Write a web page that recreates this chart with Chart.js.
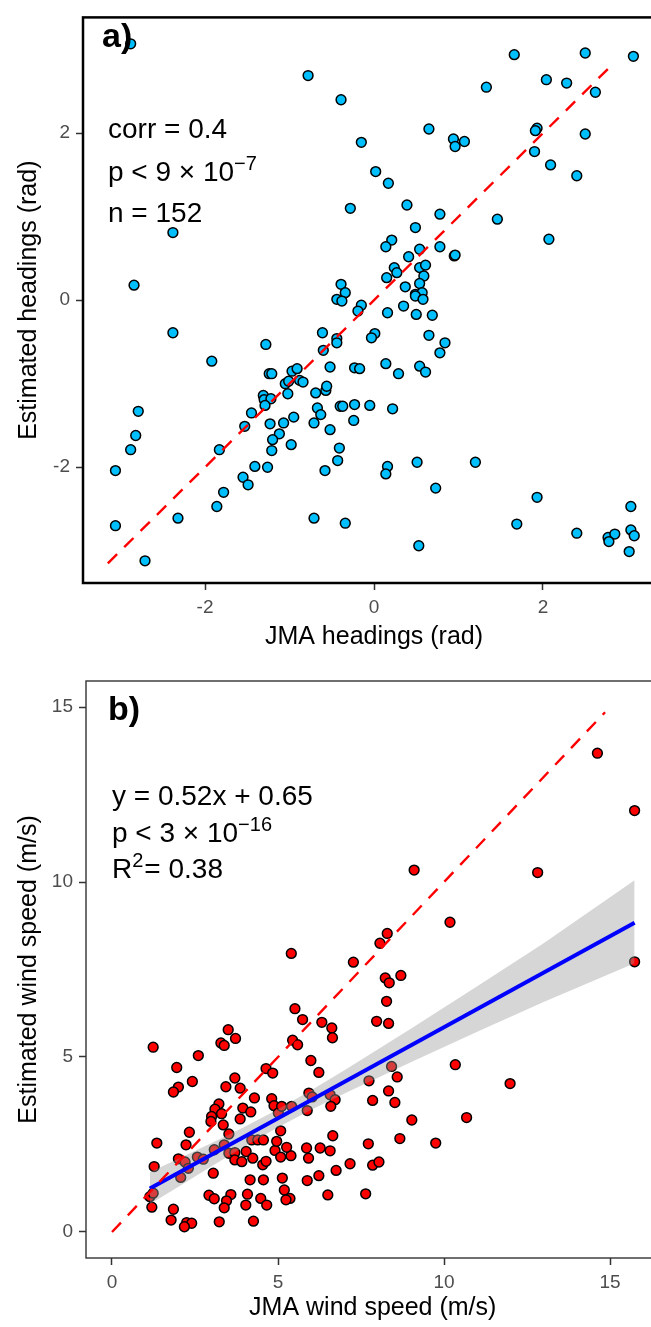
<!DOCTYPE html>
<html>
<head>
<meta charset="utf-8">
<script src="https://cdn.jsdelivr.net/npm/chart.js@4.4.1/dist/chart.umd.min.js"></script>
<style>
  html, body { margin: 0; padding: 0; background: #fff; overflow: hidden; width: 651px; height: 1327px; }
  canvas { position: absolute; left: 0; }
  #headChart { top: 0; }
  #speedChart { top: 650px; }
</style>
</head>
<body>
<canvas id="headChart" width="680" height="650"></canvas>
<canvas id="speedChart" width="680" height="677"></canvas>
<script>
// a) headings (rad): JMA vs estimated
const headJma = [
  -2.88, -0.78, -0.39, -0.15, -0.28, -2.38, -2.84, -0.39, -0.34, 1.66,
  2.50, 3.07, 2.04, 2.28, 2.62, 1.33, 0.65, 0.94, 1.07, 0.96,
  1.93, 1.91, 2.50, 1.90, 2.09, 2.40, 0.02, 0.17, 0.39, 0.78,
  1.46, 2.07, 0.49, 0.21, 0.14, 0.54, 0.41, 0.78, 0.95, 0.96,
  0.24, 0.27, 0.15, 0.54, 0.61, 0.59, 0.54, 0.37, 0.49, 0.57,
  0.35, 0.49, 0.58, 0.16, 0.50, 0.69, 0.01, -0.03, 0.65, 0.84,
  0.78, 0.14, 0.29, 0.54, 0.61, -0.05, 0.22, 0.16, 0.14, 0.51,
  1.20, 0.73, 1.93, 1.69, 3.04, 2.40, 2.77, 2.85, 2.78, 3.04,
  3.08, 3.02, 0.53, -0.44, -0.38, -0.15, -0.19, -2.38, -1.28, -0.61,
  -0.44, -0.44, -0.60, -1.92, -0.52, -0.23, -0.17, -1.24, -1.21, -0.97,
  -0.91, -1.05, -1.01, -0.88, -0.84, -1.02, -0.69, -0.57, -0.56, -1.31,
  -1.30, -1.22, -1.29, -1.45, -0.67, -0.63, -0.40, -0.37, -0.23, -1.53,
  -1.23, -1.07, -0.95, -0.71, -0.52, -0.24, -1.12, -1.20, -1.21, -0.98,
  -2.79, -2.82, -2.88, -1.83, -3.06, -1.41, -1.26, -1.55, -1.49, -1.78,
  -1.86, -0.41, -0.43, -0.58, -0.71, -0.34, -2.32, -3.06, -2.71
];
const headEst = [
  3.07, 2.69, 2.40, 1.89, 1.10, 0.81, 0.18, 0.19, 0.09, 2.94,
  2.96, 2.92, 2.64, 2.60, 2.49, 2.55, 2.05, 1.93, 1.90, 1.84,
  2.06, 2.03, 1.99, 1.78, 1.62, 1.49, 1.54, 1.40, 1.14, 1.03,
  0.97, 0.73, 0.87, 0.72, 0.64, 0.61, 0.52, 0.64, 0.53, 0.54,
  0.39, 0.33, 0.27, 0.39, 0.42, 0.29, 0.20, 0.16, 0.07, 0.09,
  -0.07, 0.05, 0.01, -0.15, -0.17, -0.18, -0.40, -0.45, -0.42, -0.51,
  -0.63, -0.76, -0.88, -0.79, -0.86, -1.26, -1.30, -1.99, -2.08, -1.94,
  -1.94, -2.25, -2.36, -2.68, -2.47, -2.79, -2.84, -2.80, -2.89, -2.75,
  -2.82, -3.01, -2.94, 0.01, -0.01, -0.06, -0.13, -0.39, -0.53, -0.39,
  -0.46, -0.51, -0.60, -0.73, -0.80, -0.81, -0.82, -0.88, -0.88, -0.85,
  -0.82, -1.00, -0.97, -0.96, -0.98, -1.12, -1.11, -1.08, -1.03, -1.14,
  -1.19, -1.18, -1.26, -1.35, -1.29, -1.37, -1.27, -1.27, -1.25, -1.51,
  -1.48, -1.47, -1.40, -1.47, -1.55, -1.44, -1.60, -1.67, -1.80, -1.73,
  -1.33, -1.62, -1.79, -1.79, -2.04, -1.99, -2.00, -2.12, -2.21, -2.30,
  -2.47, -1.77, -1.92, -2.04, -2.61, -2.67, -2.61, -2.70, -3.12
];
const headTicks = [-2, 0, 2];
const headOneToOne = [-3.15, 2.85];
const headStats = ['corr = 0.4', 'p < 9 \u00d7 10', '\u22127', 'n = 152'];

// b) wind speed (m/s): JMA vs estimated
const speedJma = [
  1.24, 3.50, 3.72, 3.28, 3.38, 2.60, 1.95, 2.42, 2.00, 1.85,
  3.70, 3.43, 3.86, 4.64, 4.84, 4.29, 4.81, 3.22, 3.10, 3.30,
  3.00, 2.98, 3.35, 3.94, 4.18, 3.86, 4.88, 5.01, 5.11, 5.08,
  3.52, 2.33, 1.35, 2.23, 2.00, 2.20, 2.07, 2.30, 2.57, 2.75,
  3.08, 3.38, 3.52, 3.70, 4.04, 4.21, 4.39, 4.56, 3.70, 3.91,
  4.24, 4.54, 4.64, 4.91, 4.96, 5.08, 5.13, 3.05, 1.27, 4.16,
  4.56, 1.14, 1.20, 1.24, 2.92, 3.08, 3.58, 3.45, 3.38, 4.08,
  4.03, 4.48, 4.66, 5.19, 1.85, 1.78, 2.25, 2.40, 2.18, 3.23,
  4.26, 7.27, 8.23, 8.35, 8.70, 8.27, 7.97, 8.33, 5.51, 5.74,
  6.32, 6.62, 6.64, 5.44, 5.59, 5.99, 6.23, 10.34, 8.42, 8.59,
  7.74, 8.33, 8.52, 7.85, 10.68, 9.03, 5.93, 6.03, 6.57, 6.72,
  6.59, 5.88, 5.41, 6.65, 5.86, 6.27, 6.57, 5.92, 5.39, 5.26,
  7.72, 8.67, 9.75, 7.17, 7.85, 8.04, 6.75, 6.23, 5.88, 5.36,
  5.24, 6.50, 7.64, 5.40, 14.62, 15.74, 9.10, 12.82, 10.18, 8.29,
  8.07, 15.74, 11.99
];
const speedEst = [
  5.28, 5.78, 5.53, 5.40, 5.33, 5.04, 4.70, 4.30, 4.14, 4.00,
  4.40, 4.15, 4.11, 4.67, 4.54, 3.83, 3.81, 3.66, 3.51, 3.38,
  3.30, 3.16, 3.06, 3.54, 3.43, 3.23, 3.61, 3.40, 3.59, 2.89,
  2.80, 2.85, 2.54, 2.49, 2.09, 2.00, 1.56, 1.82, 2.14, 2.08,
  2.35, 2.49, 2.25, 2.27, 2.30, 2.63, 2.63, 2.63, 2.06, 2.01,
  2.11, 1.92, 2.02, 2.33, 2.59, 2.14, 1.54, 1.68, 1.87, 1.49,
  1.49, 1.01, 0.71, 1.11, 1.05, 0.95, 1.07, 0.89, 0.69, 1.08,
  0.77, 0.96, 0.77, 1.20, 0.65, 0.34, 0.27, 0.25, 0.15, 0.29,
  0.31, 7.71, 7.26, 7.12, 7.33, 6.59, 6.02, 5.96, 6.38, 6.07,
  5.99, 5.83, 5.55, 5.48, 5.35, 4.90, 4.56, 4.78, 4.73, 4.43,
  4.32, 4.03, 3.70, 3.76, 3.27, 3.20, 3.97, 3.86, 3.92, 3.78,
  3.59, 3.47, 3.59, 2.75, 2.40, 2.40, 2.32, 2.11, 2.18, 2.42,
  2.52, 2.67, 2.54, 1.95, 1.91, 2.00, 1.76, 1.61, 1.47, 0.96,
  0.92, 1.06, 1.09, 7.96, 13.68, 12.04, 10.34, 10.27, 8.85, 8.53,
  8.25, 7.72, 4.24
];
const speedTicks = [0, 5, 10, 15];
const speedOneToOne = [0, 14.85];
const fitSlope = 0.52;
const fitIntercept = 0.65;
// confidence band of the fit, read at a few x positions
const bandX    = [1.14, 2, 3, 4, 5, 6, 7, 9, 11, 13, 15.74];
const bandLow  = [0.79, 1.29, 1.88, 2.45, 2.99, 3.49, 3.96, 4.85, 5.72, 6.57, 7.68];
const bandHigh = [1.71, 2.09, 2.54, 3.01, 3.51, 4.05, 4.62, 5.81, 7.02, 8.25, 10.05];
const speedStats = ['y = 0.52x + 0.65', 'p < 3 \u00d7 10', '\u221216', 'R', '2', '= 0.38'];

const FONT = '"Liberation Sans", Arial, Helvetica, sans-serif';
Chart.defaults.font.family = FONT;

// frame round the panel
const framePlugin = {
  id: 'frame',
  afterDatasetsDraw(chart, args, opts) {
    const { ctx, chartArea: a } = chart;
    ctx.save();
    ctx.strokeStyle = opts.color;
    ctx.lineWidth = opts.width;
    ctx.strokeRect(a.left, a.top, a.right - a.left, a.bottom - a.top);
    ctx.restore();
  }
};

// stat text (under the points) and panel tag (on top)
const textPlugin = {
  id: 'panelText',
  beforeDatasetsDraw(chart, args, opts) {
    const ctx = chart.ctx;
    ctx.save();
    ctx.fillStyle = '#000';
    ctx.textBaseline = 'alphabetic';
    ctx.textAlign = 'left';
    opts.lines.forEach(line => {
      let x = opts.x;
      line.forEach(part => {
        const sup = part.sup;
        ctx.font = (sup ? '20px ' : '28px ') + FONT;
        const y = part.y + (sup ? -11 : 0);
        ctx.fillText(part.t, x, y);
        x += ctx.measureText(part.t).width + (part.gap || 0);
      });
    });
    ctx.restore();
  },
  afterDraw(chart, args, opts) {
    const ctx = chart.ctx;
    ctx.save();
    ctx.fillStyle = '#000';
    ctx.font = 'bold 34px ' + FONT;
    ctx.textBaseline = 'alphabetic';
    ctx.fillText(opts.tag, opts.tagX, opts.tagY);
    ctx.restore();
  }
};

function axis(min, max, ticks, size, title, titlePad, horizontal) {
  return {
    type: 'linear',
    position: horizontal ? 'bottom' : 'left',
    min: min,
    max: max,
    afterBuildTicks: s => { s.ticks = ticks.map(v => ({ value: v })); },
    afterFit: s => { if (horizontal) s.height = size; else s.width = size; },
    grid: {
      drawOnChartArea: false,
      drawTicks: true,
      tickLength: 7,
      tickWidth: 1.5,
      tickColor: '#333333',
      color: '#333333'
    },
    border: { display: false },
    ticks: { color: '#4d4d4d', font: { size: 19 }, padding: 6 },
    title: {
      display: true,
      text: title,
      color: '#000',
      font: { size: 25, lineHeight: 1 },
      padding: titlePad
    }
  };
}

function pointSet(xs, ys, fill) {
  return {
    label: 'points',
    data: xs.map((x, i) => ({ x: x, y: ys[i] })),
    backgroundColor: fill,
    borderColor: '#000',
    borderWidth: 1.5,
    pointRadius: 4.9,
    order: 3
  };
}

function dashedSet(ends) {
  return {
    label: '1:1',
    data: ends.map(v => ({ x: v, y: v })),
    showLine: true,
    borderColor: '#ff0000',
    borderWidth: 2.4,
    borderDash: [13, 10],
    pointRadius: 0,
    order: 0
  };
}

const common = {
  responsive: false,
  maintainAspectRatio: false,
  animation: false,
  events: [],
  plugins: { legend: { display: false }, tooltip: { enabled: false } }
};

// panel a
new Chart(document.getElementById('headChart'), {
  type: 'scatter',
  data: {
    datasets: [
      pointSet(headJma, headEst, '#00bfff'),
      dashedSet(headOneToOne)
    ]
  },
  options: Object.assign({}, common, {
    layout: { padding: { left: 0, top: 9, right: 15, bottom: 0 } },
    scales: {
      x: axis(-3.444, 3.444, headTicks, 67, 'JMA headings (rad)', { top: 0, bottom: 0 }, true),
      y: axis(-3.386, 3.386, headTicks, 83, 'Estimated headings (rad)', { top: 17, bottom: 0 }, false)
    },
    plugins: Object.assign({}, common.plugins, {
      frame: { color: '#000', width: 2.5 },
      panelText: {
        x: 108,
        lines: [
          [{ t: headStats[0], y: 138 }],
          [{ t: headStats[1], y: 181 }, { t: headStats[2], y: 181, sup: true }],
          [{ t: headStats[3], y: 222 }]
        ],
        tag: 'a)', tagX: 102, tagY: 47
      }
    })
  }),
  plugins: [framePlugin, textPlugin]
});

// panel b
const fitX = [Math.min(...speedJma), Math.max(...speedJma)];
new Chart(document.getElementById('speedChart'), {
  type: 'scatter',
  data: {
    datasets: [
      pointSet(speedJma, speedEst, '#ff0000'),
      {
        label: 'band high',
        data: bandX.map((x, i) => ({ x: x, y: bandHigh[i] })),
        showLine: true,
        borderWidth: 0,
        borderColor: 'rgba(0,0,0,0)',
        backgroundColor: 'rgba(153,153,153,0.4)',
        pointRadius: 0,
        fill: '+1',
        order: 2
      },
      {
        label: 'band low',
        data: bandX.map((x, i) => ({ x: x, y: bandLow[i] })),
        showLine: true,
        borderWidth: 0,
        borderColor: 'rgba(0,0,0,0)',
        pointRadius: 0,
        order: 2
      },
      {
        label: 'fit',
        data: fitX.map(x => ({ x: x, y: fitSlope * x + fitIntercept })),
        showLine: true,
        borderColor: '#0000ff',
        borderWidth: 4,
        pointRadius: 0,
        order: 1
      },
      dashedSet(speedOneToOne)
    ]
  },
  options: Object.assign({}, common, {
    layout: { padding: { left: 0, top: 31, right: 20.5, bottom: 0 } },
    scales: {
      x: axis(-0.783, 16.49, speedTicks, 69, 'JMA wind speed (m/s)', { top: 0, bottom: 6 }, true),
      y: axis(-0.743, 15.743, speedTicks, 86, 'Estimated wind speed (m/s)', { top: 17, bottom: 0 }, false)
    },
    plugins: Object.assign({}, common.plugins, {
      frame: { color: '#333333', width: 1.4 },
      panelText: {
        x: 112,
        lines: [
          [{ t: speedStats[0], y: 155 }],
          [{ t: speedStats[1], y: 192 }, { t: speedStats[2], y: 192, sup: true }],
          [{ t: speedStats[3], y: 228 }, { t: speedStats[4], y: 228, sup: true, gap: 1 }, { t: speedStats[5], y: 228 }]
        ],
        tag: 'b)', tagX: 108, tagY: 70
      }
    })
  }),
  plugins: [framePlugin, textPlugin]
});
</script>
</body>
</html>
